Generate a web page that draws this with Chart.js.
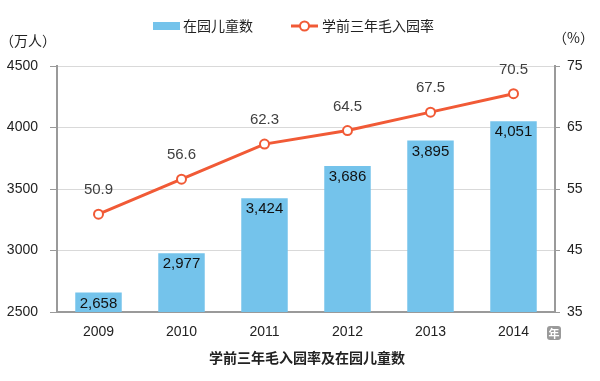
<!DOCTYPE html>
<html>
<head>
<meta charset="utf-8">
<script src="https://cdn.jsdelivr.net/npm/chart.js@4/dist/chart.umd.min.js"></script>
<style>
html,body{margin:0;padding:0;background:#fff;}
#wrap{width:600px;height:381px;position:relative;}
</style>
</head>
<body>
<div id="wrap"><canvas id="c" width="600" height="381"></canvas></div>
<script>
const years = ['2009','2010','2011','2012','2013','2014'];
const children = [2658, 2977, 3424, 3686, 3895, 4051];
const enrollRate = [50.9, 56.6, 62.3, 64.5, 67.5, 70.5];
const leftTicks = [2500, 3000, 3500, 4000, 4500];
const rightTicks = [35, 45, 55, 65, 75];
const barLabel = '在园儿童数';
const lineLabel = '学前三年毛入园率';
const titleText = '学前三年毛入园率及在园儿童数';

const FONT = '"Liberation Sans", Arial, "Noto Sans CJK SC", sans-serif';
const CJK = '"Noto Sans CJK SC", "Liberation Sans", sans-serif';
const BAR_COLOR = '#74c3eb';
const LINE_COLOR = '#f15a36';

const extras = {
  id: 'extras',
  afterDatasetsDraw(chart) {
    const ctx = chart.ctx;
    ctx.save();
    const barMeta = chart.getDatasetMeta(0);
    ctx.font = '15px ' + FONT;
    ctx.fillStyle = '#111';
    ctx.textAlign = 'center';
    ctx.textBaseline = 'middle';
    barMeta.data.forEach((el, i) => {
      ctx.fillText(children[i].toLocaleString('en-US'), el.x, el.y + 11);
    });
    const lineMeta = chart.getDatasetMeta(1);
    ctx.fillStyle = '#404040';
    lineMeta.data.forEach((el, i) => {
      ctx.fillText(enrollRate[i].toFixed(1), el.x, el.y - 24);
    });
    ctx.restore();
  },
  afterDraw(chart) {
    const ctx = chart.ctx;
    ctx.save();
    ctx.fillStyle = BAR_COLOR;
    ctx.fillRect(153, 22, 27, 8);
    ctx.font = '14px ' + CJK;
    ctx.fillStyle = '#222';
    ctx.textAlign = 'left';
    ctx.textBaseline = 'middle';
    ctx.fillText(barLabel, 183, 26);
    ctx.strokeStyle = LINE_COLOR;
    ctx.lineWidth = 3;
    ctx.beginPath(); ctx.moveTo(291, 26); ctx.lineTo(318, 26); ctx.stroke();
    ctx.beginPath(); ctx.arc(304.5, 26, 4.5, 0, Math.PI * 2);
    ctx.fillStyle = '#fff'; ctx.fill();
    ctx.lineWidth = 2; ctx.stroke();
    ctx.fillStyle = '#222';
    ctx.fillText(lineLabel, 322, 26);
    ctx.font = '14px ' + CJK;
    ctx.fillText('（万人）', 0, 41);
    ctx.fillText('（%）', 553, 38);
    ctx.fillStyle = '#9a9a9a';
    const bx = 547, by = 326, bw = 14, bh = 14, r = 3;
    ctx.beginPath();
    ctx.moveTo(bx + r, by);
    ctx.arcTo(bx + bw, by, bx + bw, by + bh, r);
    ctx.arcTo(bx + bw, by + bh, bx, by + bh, r);
    ctx.arcTo(bx, by + bh, bx, by, r);
    ctx.arcTo(bx, by, bx + bw, by, r);
    ctx.closePath();
    ctx.fill();
    ctx.fillStyle = '#fff';
    ctx.font = 'bold 11px ' + CJK;
    ctx.textAlign = 'center';
    ctx.fillText('年', bx + bw / 2, by + bh / 2 + 0.5);
    ctx.fillStyle = '#222';
    ctx.font = 'bold 14px ' + CJK;
    ctx.fillText(titleText, 307, 358);
    ctx.restore();
  }
};

new Chart(document.getElementById('c'), {
  data: {
    labels: years,
    datasets: [
      {
        type: 'bar',
        label: barLabel,
        data: children,
        backgroundColor: BAR_COLOR,
        yAxisID: 'y',
        categoryPercentage: 0.56,
        barPercentage: 1,
        order: 2
      },
      {
        type: 'line',
        label: lineLabel,
        data: enrollRate,
        borderColor: LINE_COLOR,
        borderWidth: 3,
        pointRadius: 4.5,
        pointBackgroundColor: '#fff',
        pointBorderColor: LINE_COLOR,
        pointBorderWidth: 2,
        tension: 0,
        yAxisID: 'y1',
        order: 1
      }
    ]
  },
  options: {
    responsive: false,
    animation: false,
    layout: { padding: { top: 66, left: 0, right: 0, bottom: 0 } },
    plugins: { legend: { display: false }, tooltip: { enabled: false } },
    scales: {
      x: {
        offset: true,
        grid: { display: false, drawTicks: false },
        border: { color: '#9a9a9a', width: 2 },
        ticks: { color: '#222', font: { size: 14, family: FONT }, padding: 12 },
        afterFit(s) { s.height = 69; }
      },
      y: {
        position: 'left',
        min: 2500, max: 4500,
        afterBuildTicks(s) { s.ticks = leftTicks.map(v => ({ value: v })); },
        grid: { color: '#d9d9d9', lineWidth: 1, tickLength: 7, tickColor: '#9a9a9a', tickWidth: 1 },
        border: { color: '#9a9a9a', width: 2 },
        ticks: { color: '#222', font: { size: 14, family: FONT }, padding: 12, callback: v => String(v) },
        afterFit(s) { s.width = 57; }
      },
      y1: {
        position: 'right',
        min: 35, max: 75,
        afterBuildTicks(s) { s.ticks = rightTicks.map(v => ({ value: v })); },
        grid: { drawOnChartArea: false, tickLength: 5, tickColor: '#9a9a9a' },
        border: { color: '#9a9a9a', width: 2 },
        ticks: { color: '#222', font: { size: 14, family: FONT }, padding: 7, callback: v => String(v) },
        afterFit(s) { s.width = 45; }
      }
    }
  },
  plugins: [extras]
});
</script>
</body>
</html>
